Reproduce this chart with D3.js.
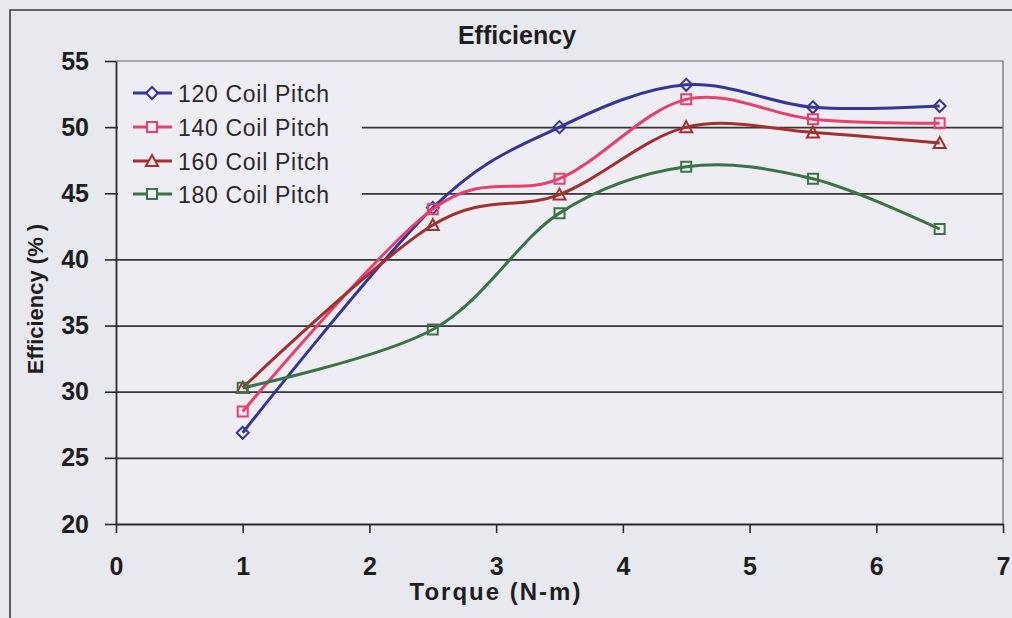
<!DOCTYPE html>
<html>
<head>
<meta charset="utf-8">
<script src="https://cdn.jsdelivr.net/npm/d3@7"></script>
<style>
  html, body { margin: 0; padding: 0; background: #e8e8ef; }
  svg { display: block; }
  text { font-family: Arial, "Liberation Sans", sans-serif; }
</style>
</head>
<body>
<svg id="chart" width="1012" height="618"></svg>
<script>
// ---- data ----
const torque = [1, 2.5, 3.5, 4.5, 5.5, 6.5];
const seriesNames = ["120 Coil Pitch", "140 Coil Pitch", "160 Coil Pitch", "180 Coil Pitch"];
const eff120 = [26.9, 43.9, 50.0, 53.2, 51.5, 51.6];
const eff140 = [28.5, 43.8, 46.1, 52.1, 50.6, 50.3];
const eff160 = [30.3, 42.6, 44.9, 50.0, 49.6, 48.8];
const eff180 = [30.3, 34.7, 43.5, 47.0, 46.1, 42.3];
const xTicks = [0, 1, 2, 3, 4, 5, 6, 7];
const yTicks = [20, 25, 30, 35, 40, 45, 50, 55];
const seriesColors = ["#36369a", "#e8406c", "#a3302c", "#3b7346"];
const seriesMarkers = ["diamond", "square", "triangle", "square"];

const seriesValues = [eff120, eff140, eff160, eff180];

(function () {
const svg = d3.select("#chart");
const W = 1012, H = 618;
const pL = 116, pR = 1003, pT = 61, pB = 524;
const plotBg = "#ededf3";

// outer chart area
svg.append("rect").attr("x", 0).attr("y", 0).attr("width", W).attr("height", H).attr("fill", "#e8e8ef");
svg.append("path")
  .attr("d", `M10,${H + 5} L10,10 L${W + 5},10`)
  .attr("fill", "none").attr("stroke", "#3a3a3a").attr("stroke-width", 1.6);

// plot area
svg.append("rect").attr("x", pL).attr("y", pT).attr("width", pR - pL).attr("height", pB - pT)
  .attr("fill", plotBg);

const x = d3.scaleLinear().domain([0, 7]).range([pL, pR]);
const y = d3.scaleLinear().domain([20, 55]).range([pB, pT]);

// gridlines
svg.append("g").attr("transform", `translate(${pL},0)`)
  .call(d3.axisLeft(y).tickValues(yTicks.filter(v => v > 20 && v < 55)).tickSize(-(pR - pL)).tickFormat(""))
  .call(g => g.select(".domain").remove())
  .call(g => g.selectAll("line").attr("stroke", "#353535").attr("stroke-width", 1.7));

// plot border top/right
svg.append("path")
  .attr("d", `M${pL},${pT} L${pR},${pT} L${pR},${pB}`)
  .attr("fill", "none").attr("stroke", "#6a6a6a").attr("stroke-width", 1.2);

// legend background (covers gridlines)
svg.append("rect").attr("x", pL + 2).attr("y", 74).attr("width", 244).attr("height", 138).attr("fill", plotBg);

// y axis
svg.append("g").attr("transform", `translate(${pL},0)`)
  .call(d3.axisLeft(y).tickValues(yTicks).tickSize(11).tickSizeOuter(0).tickPadding(16).tickFormat(d3.format("d")))
  .call(g => g.select(".domain").attr("stroke", "#2a2a2a").attr("stroke-width", 1.8))
  .call(g => g.selectAll("line").attr("stroke", "#2a2a2a").attr("stroke-width", 1.6))
  .call(g => g.selectAll("text").attr("fill", "#1e1e1e").attr("font-size", 25).attr("font-weight", "bold")
    .attr("font-family", "Arial, 'Liberation Sans', sans-serif").attr("dy", "0.32em"));

// x axis
svg.append("g").attr("transform", `translate(0,${pB})`)
  .call(d3.axisBottom(x).tickValues(xTicks).tickSize(9).tickSizeOuter(0).tickPadding(24).tickFormat(d3.format("d")))
  .call(g => g.select(".domain").attr("stroke", "#2a2a2a").attr("stroke-width", 1.8))
  .call(g => g.selectAll("line").attr("stroke", "#2a2a2a").attr("stroke-width", 1.6))
  .call(g => g.selectAll("text").attr("fill", "#1e1e1e").attr("font-size", 25).attr("font-weight", "bold")
    .attr("font-family", "Arial, 'Liberation Sans', sans-serif"));

// titles
svg.append("text").attr("x", 517).attr("y", 44).attr("text-anchor", "middle")
  .attr("font-size", 25).attr("font-weight", "bold").attr("fill", "#1e1e1e").text("Efficiency");
svg.append("text").attr("x", 496).attr("y", 600).attr("text-anchor", "middle")
  .attr("font-size", 24).attr("font-weight", "bold").attr("letter-spacing", 2).attr("fill", "#1e1e1e").text("Torque (N-m)");
svg.append("text").attr("transform", "translate(43,299) rotate(-90)").attr("text-anchor", "middle")
  .attr("font-size", 22).attr("font-weight", "bold").attr("fill", "#1e1e1e").text("Efficiency (% )");

// markers
function markerPath(kind) {
  if (kind === "diamond") {
    const r = 6;
    return `M0,${-r} L${r},0 L0,${r} L${-r},0 Z`;
  }
  if (kind === "triangle") {
    return "M0,-6 L6,5 L-6,5 Z";
  }
  return "M-5,-5 L5,-5 L5,5 L-5,5 Z";
}

const line = d3.line().x(d => x(d[0])).y(d => y(d[1])).curve(d3.curveCardinal.tension(0));

seriesValues.forEach((vals, i) => {
  const pts = torque.map((t, j) => [t, vals[j]]);
  const g = svg.append("g");
  g.append("path").attr("d", line(pts)).attr("fill", "none")
    .attr("stroke", seriesColors[i]).attr("stroke-width", 3).attr("stroke-linejoin", "round");
  g.selectAll("path.m").data(pts).join("path").attr("class", "m")
    .attr("d", markerPath(seriesMarkers[i]))
    .attr("transform", d => `translate(${x(d[0])},${y(d[1])})`)
    .attr("fill", "none").attr("stroke", seriesColors[i]).attr("stroke-width", 2);
});

// legend
const legY = [93, 127, 161, 194];
seriesNames.forEach((name, i) => {
  const g = svg.append("g").attr("transform", `translate(0,${legY[i]})`);
  g.append("line").attr("x1", 133).attr("x2", 172).attr("y1", 0).attr("y2", 0)
    .attr("stroke", seriesColors[i]).attr("stroke-width", 3);
  g.append("path").attr("d", markerPath(seriesMarkers[i])).attr("transform", "translate(152,0)")
    .attr("fill", plotBg).attr("stroke", seriesColors[i]).attr("stroke-width", 2);
  g.append("text").attr("x", 178).attr("y", 9).attr("font-size", 23).attr("letter-spacing", 0.7)
    .attr("fill", "#2a2a2a").text(name);
});
})();
</script>
</body>
</html>
